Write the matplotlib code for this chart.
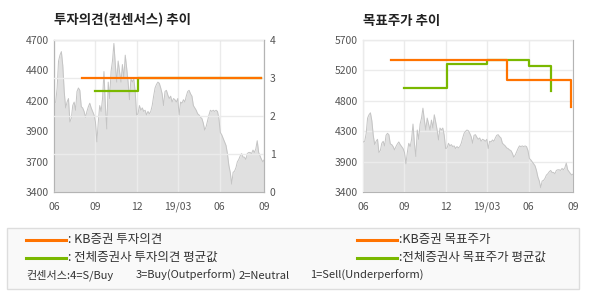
import matplotlib
matplotlib.use('Agg')
import matplotlib.pyplot as plt
import numpy as np
from matplotlib.lines import Line2D
from matplotlib.patches import Rectangle

plt.rcParams['font.family'] = ['Noto Sans CJK KR', 'DejaVu Sans']

# 주가 (약 2거래일 간격, 2018/06 ~ 2019/09)
price = [
    4160, 4170, 4290, 4520, 4570, 4600, 4480, 4260, 4120, 4170,
    4200, 4000, 4030, 4140, 4170, 4100, 4260, 4290, 4270, 4130,
    4120, 4090, 4040, 4090, 4130, 4160, 4120, 4090, 4060, 4000,
    3830, 4000, 4140, 4090, 4200, 4430, 4140, 3940, 4340, 4200,
    4430, 4520, 4670, 4490, 4340, 4520, 4430, 4340, 4490, 4370,
    4570, 4460, 4340, 4190, 4370, 4340, 4370, 4260, 4060, 4070,
    4140, 4100, 4120, 4090, 4100, 4060, 4090, 4070, 4090, 4140,
    4220, 4290, 4320, 4340, 4330, 4290, 4240, 4140, 4260, 4270,
    4230, 4200, 4220, 4170, 4200, 4190, 4170, 4200, 4060, 4170,
    4160, 4190, 4170, 4220, 4260, 4270, 4240, 4220, 4140, 4120,
    4100, 4070, 4060, 4040, 4030, 3990, 3930, 3960, 4010, 4060,
    4100, 4090, 4100, 4090, 4100, 4090, 4030, 3910, 3890, 3860,
    3830, 3800, 3730, 3630, 3570, 3470, 3570, 3580, 3610, 3660,
    3680, 3710, 3730, 3700, 3700, 3680, 3730, 3740, 3740, 3730,
    3760, 3740, 3770, 3840, 3740, 3710, 3680, 3660, 3680,
]

x_labels = ['06', '09', '12', '19/03', '06', '09']
x_ticks = [0, 29, 58.5, 87, 116.5, 148]

# 투자의견 (변경 시점, 값)
kb_op_x = [19.5, 146]
kb_op_y = [3, 3]
avg_op_x = [29, 59, 146]
avg_op_y = [2.67, 3, 3]

# 목표주가 (변경 시점, 값)
kb_tp_x = [19.5, 101.3, 146.4]
kb_tp_y = [5400, 5100, 4690]
avg_tp_x = [29, 59, 87, 116.6, 132]
avg_tp_y = [4970, 5330, 5400, 5300, 4930]

op_labels = ['3400', '3700', '3900', '4200', '4400', '4700']
tp_labels = ['3400', '3900', '4300', '4800', '5200', '5700']

ORANGE = '#ff7300'
GREEN = '#7ab800'
GRID = '#ebebeb'
SPINE = '#b4b4b4'
TXT = '#555555'

fig = plt.figure(figsize=(5.9, 3.0), dpi=100)


def style(ax):
    ax.tick_params(length=0, labelsize=7.5, colors=TXT, pad=4)
    ax.tick_params(axis='x', pad=12.5)
    for lbl in ax.get_xticklabels():
        lbl.set_verticalalignment('baseline')
    for s in ax.spines.values():
        s.set_color(SPINE)


def draw_price(ax, lo, hi, labels):
    xs = np.arange(len(price))
    ax.fill_between(xs, price, lo, color='#e0e0e0', lw=0, zorder=1)
    ax.plot(xs, price, color='#c4c4c4', lw=0.7, zorder=3)
    ax.set_xlim(0, len(price) - 1)
    ax.set_ylim(lo, hi)
    ax.set_yticks(np.linspace(lo, hi, 6))
    ax.set_yticklabels(labels)
    ax.set_xticks(x_ticks)
    ax.set_xticklabels(x_labels)
    ax.set_axisbelow(False)
    ax.grid(axis='x', color=GRID, lw=1)
    style(ax)


# 투자의견 추이
ax1 = fig.add_axes([0.092, 0.359, 0.356, 0.508])
draw_price(ax1, 3400, 4700, op_labels)
ax1b = ax1.twinx()
ax1b.set_ylim(0, 4)
ax1b.set_yticks([0, 1, 2, 3, 4])
ax1b.set_axisbelow(False)
ax1b.grid(axis='y', color=GRID, lw=1)
ax1b.step(avg_op_x, avg_op_y, where='post', color=GREEN, lw=1.6, zorder=4)
ax1b.step(kb_op_x, kb_op_y, where='post', color=ORANGE, lw=1.6, zorder=5)
style(ax1b)
ax1.set_title('투자의견(컨센서스) 추이', loc='left', fontsize=9.7,
              fontweight='bold', color='#222222', pad=11)

# 목표주가 추이
ax2 = fig.add_axes([0.6158, 0.359, 0.356, 0.508])
draw_price(ax2, 3400, 5700, tp_labels)
ax2.grid(axis='y', color=GRID, lw=1)
ax2.step(avg_tp_x, avg_tp_y, where='post', color=GREEN, lw=1.6, zorder=4)
ax2.step(kb_tp_x, kb_tp_y, where='post', color=ORANGE, lw=1.6, zorder=5)
ax2.set_title('목표주가 추이', loc='left', fontsize=9.7,
              fontweight='bold', color='#222222', pad=11)

# 범례
fig.add_artist(Rectangle((0.0124, 0.037), 0.9695, 0.204, transform=fig.transFigure,
                         facecolor='#f9f9f9', edgecolor='#dddddd', lw=1))


def legend_item(x0, x1, y, color, text):
    fig.add_artist(Line2D([x0 / 590, x1 / 590], [y, y], color=color, lw=2.2,
                          transform=fig.transFigure))
    fig.text(x1 / 590 + 0.004, y, text, fontsize=9, color='#333333', va='center')


legend_item(26, 66, 0.200, ORANGE, ': KB증권 투자의견')
legend_item(26, 66, 0.141, GREEN, ': 전체증권사 투자의견 평균값')
legend_item(357, 397, 0.200, ORANGE, ':KB증권 목표주가')
legend_item(357, 397, 0.141, GREEN, ':전체증권사 목표주가 평균값')

fig.text(26 / 590, 0.081, '컨센서스:4=S/Buy', fontsize=8, color='#333333', va='center')
fig.text(136 / 590, 0.081, '3=Buy(Outperform)', fontsize=8, color='#333333', va='center')
fig.text(239 / 590, 0.081, '2=Neutral', fontsize=8, color='#333333', va='center')
fig.text(310 / 590, 0.081, '1=Sell(Underperform)', fontsize=8, color='#333333', va='center')

fig.savefig('out.png', dpi=100)
